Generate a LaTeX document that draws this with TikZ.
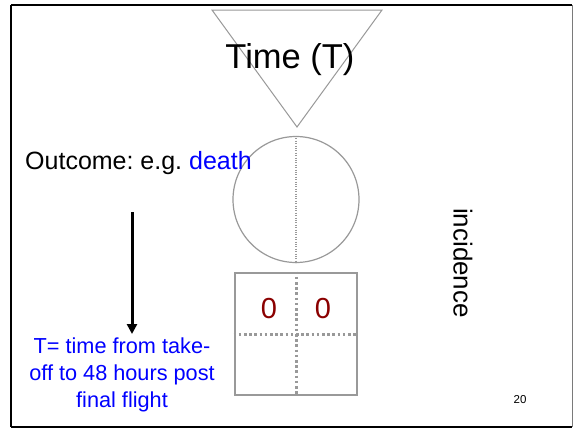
\documentclass[tikz,border=0pt]{standalone}
\usepackage{fontspec}
\setmainfont{Liberation Sans}
\usetikzlibrary{arrows.meta}
\definecolor{lgray}{HTML}{999999}
\definecolor{dred}{HTML}{8B0000}
\frenchspacing
\begin{document}
\begin{tikzpicture}[x=1pt,y=-1pt,
  shapeline/.style={draw=lgray,line width=1.2pt},
  boxdots/.style={draw=lgray,line width=3pt,dash pattern=on 2.6pt off 2.6pt},
  finedots/.style={draw=lgray,line width=1.1pt,dash pattern=on 1pt off 1.4pt},
  txt/.style={inner sep=0pt,font=\fontsize{25}{30}\selectfont},
  bluetxt/.style={inner sep=0pt,text=blue,align=center,font=\fontsize{21.7}{27}\selectfont},
  zero/.style={inner sep=0pt,text=dred,font=\fontsize{29}{34}\selectfont}]
\useasboundingbox (0,0) rectangle (573,429);
\fill[white] (0,0) rectangle (573,429);
% frame
\coordinate (f1) at (11,5);
\coordinate (f2) at (572,5);
\coordinate (f3) at (572,427);
\coordinate (f4) at (11,427);
\draw[black,line width=2pt] (f1) -- (f2);
\draw[black,line width=2pt] (f1) -- (f4);
\draw[black,line width=1.5pt] (f4) -- (f3);
\draw[lgray!80!black,line width=1pt] (f2) -- (f3);
% triangle
\coordinate (t1) at (212,10);
\coordinate (t2) at (382,10);
\coordinate (t3) at (297,127);
\draw[shapeline,line width=1pt,line join=miter] (t1) -- (t2) -- (t3) -- cycle;
\node[txt,font=\fontsize{34.5}{40}\selectfont,anchor=base] (time) at (290,68) {Time (T)};
% circle
\node[shapeline,circle,minimum size=126pt,inner sep=0pt] (circ) at (296,199.5) {};
\draw[finedots] (circ.north) -- (circ.south);
% box
\node[draw=lgray,line width=2.8pt,minimum width=122pt,minimum height=122pt,inner sep=0pt] (box) at (296,334) {};
\draw[boxdots] (box.north) -- (box.south);
\draw[boxdots] (box.west) -- (box.east);
\node[zero,anchor=base] (z1) at (269,318) {0};
\node[zero,anchor=base] (z2) at (323,318) {0};
% texts
\node[txt,anchor=base west] (outcome) at (25,169) {Outcome: e.g. \textcolor{blue}{death}};
\coordinate (a1) at (132,212);
\coordinate (a2) at (132,334);
\draw[line width=3pt,-{Triangle[length=10pt,width=10pt]}] (a1) -- (a2);
\node[bluetxt,anchor=north] (tdef) at (122,338) {T= time from take-\\off to 48 hours post\\final flight};
\node[txt,font=\fontsize{26}{30}\selectfont,rotate=-90] (inc) at (463,263) {incidence};
\node[inner sep=0pt,font=\fontsize{11.5}{14}\selectfont] (page) at (520,400) {20};
\end{tikzpicture}
\end{document}
